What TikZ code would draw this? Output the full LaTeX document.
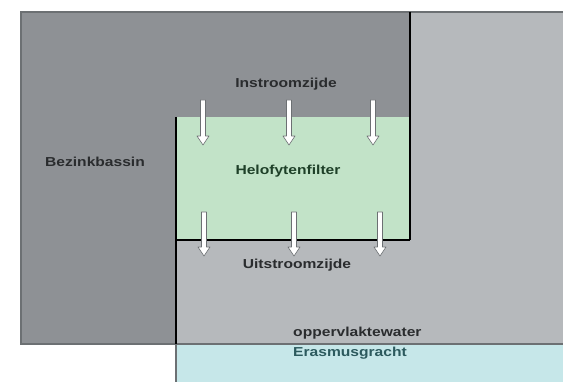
\documentclass[tikz,border=0pt]{standalone}
\usepackage{fontspec}
\setmainfont{Liberation Sans}
\definecolor{darkbasin}{HTML}{8E9195}
\definecolor{lightbasin}{HTML}{B6B9BC}
\definecolor{filtergreen}{HTML}{C2E3C8}
\definecolor{canal}{HTML}{C6E7E9}
\definecolor{edgegray}{HTML}{6C7073}
\definecolor{labeldark}{HTML}{2A2C2E}
\definecolor{labelgreen}{HTML}{1E4028}
\definecolor{labelteal}{HTML}{2C5A5E}
\tikzset{
  lbl/.style={font=\fontsize{13}{15}\selectfont\bfseries, xscale=1.2, inner sep=0pt, text=labeldark},
  wall/.style={draw=black, line width=2.4pt},
  flowarrow/.style={fill=white, draw=edgegray, line width=0.6pt, line join=round}
}
\begin{document}
\begin{tikzpicture}[x=1pt,y=-1pt]
\useasboundingbox (0,0) rectangle (563,382);
\fill[white] (0,0) rectangle (563,382);
% regions
\fill[lightbasin] (21,12) rectangle (563,344);
\fill[darkbasin] (21,12) -- (410,12) -- (410,117) -- (176,117) -- (176,344) -- (21,344) -- cycle;
\fill[filtergreen] (176,117) rectangle (410,240);
\fill[canal] (176,344) rectangle (563,382);
\draw[edgegray, line width=1.5pt] (563,12) -- (21,12) -- (21,344) -- (563,344);
\draw[edgegray, line width=1.2pt] (176,344) -- (176,382);
% walls
\coordinate (wl1) at (176,117);
\coordinate (wl2) at (176,344);
\coordinate (wr1) at (410,12);
\coordinate (wr2) at (410,240);
\coordinate (wb1) at (176,240);
\draw[wall] (wl1) -- (wl2);
\draw[wall] (wr1) -- (wr2);
\draw[wall, line width=2pt] (wb1) -- (wr2);
% arrows
\foreach \ax/\ya/\yb in {203/100/145, 289/100/145, 373/100/145, 204/212/256, 294/212/256, 380/212/256}{
  \draw[flowarrow] (\ax-2.5,\ya) -- (\ax+2.5,\ya) -- (\ax+2.5,\yb-9) -- (\ax+6,\yb-9) -- (\ax,\yb) -- (\ax-6,\yb-9) -- (\ax-2.5,\yb-9) -- cycle;
}
% labels
\node[lbl] (bez) at (95,162) {Bezinkbassin};
\node[lbl] (in) at (286,84) {Instroomzijde};
\node[lbl, text=labelgreen] (helo) at (288,171) {Helofytenfilter};
\node[lbl] (uit) at (297,265) {Uitstroomzijde};
\node[lbl, anchor=west] (opp) at (293,333) {oppervlaktewater};
\node[lbl, anchor=west, text=labelteal] (eras) at (293,353) {Erasmusgracht};
\end{tikzpicture}
\end{document}
